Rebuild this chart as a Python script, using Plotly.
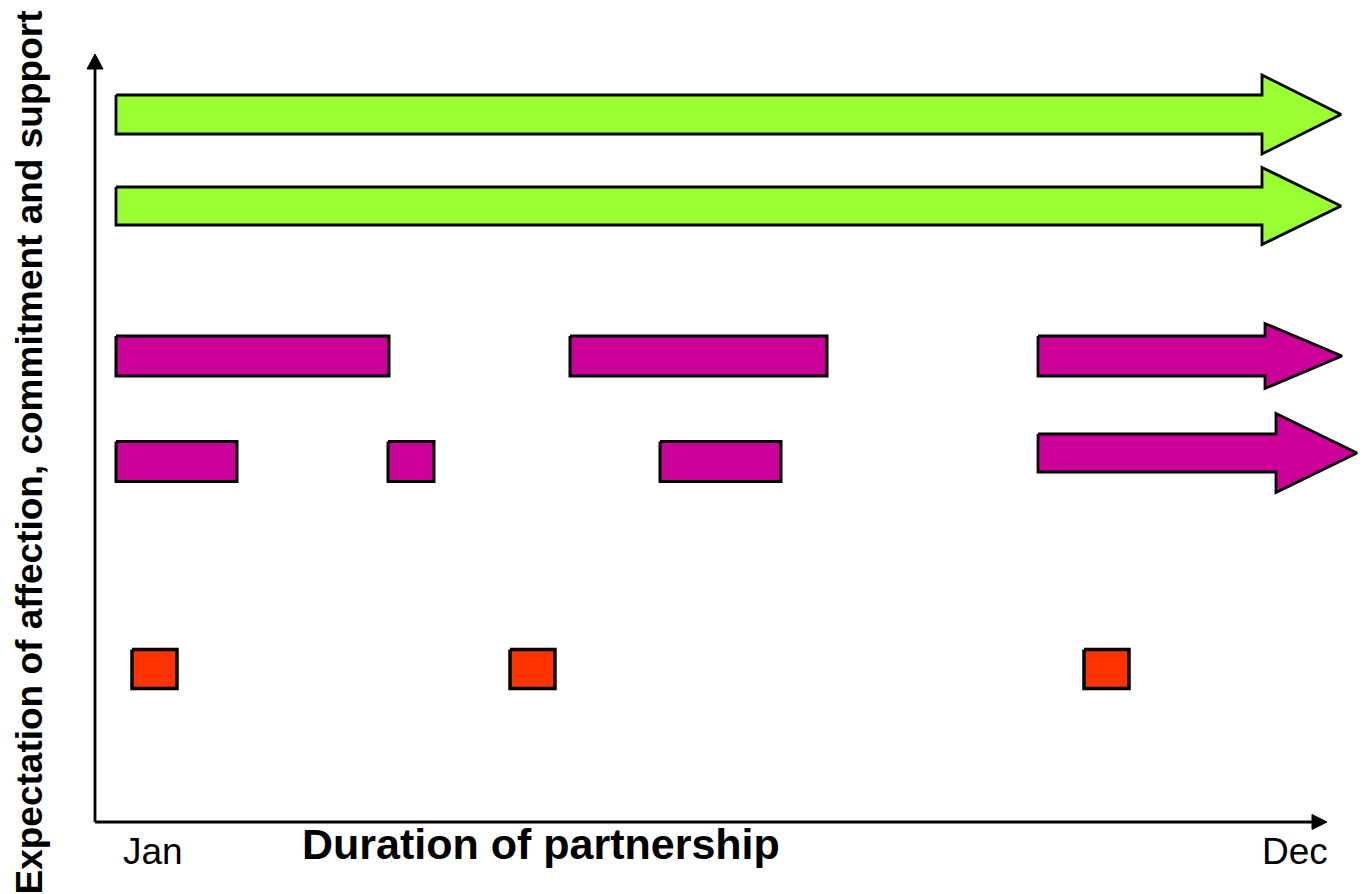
import plotly.graph_objects as go

# ---- Data (timeline units: x = position along duration, y = level of expectation) ----
arrow_y = [70.75, 61.6, 46.6, 36.9]
arrow_start = [2.1, 2.1, 94.3, 94.3]
arrow_head = [116.7, 116.7, 117.0, 118.1]
arrow_tip = [124.6, 124.6, 124.7, 126.2]
arrow_body_half = [1.95, 1.9, 2.0, 1.9]
arrow_head_half = [3.95, 3.85, 3.25, 3.95]
arrow_color = ["#99FF33", "#99FF33", "#CC0099", "#CC0099"]

bar_y = [46.6, 46.6, 36.05, 36.05, 36.05]
bar_start = [2.1, 47.5, 2.1, 29.3, 56.5]
bar_end = [29.4, 73.2, 14.2, 33.9, 68.6]
bar_half = [2.0, 2.0, 2.0, 2.0, 2.0]
bar_color = "#CC0099"

event_x = [5.95, 43.75, 101.15]
event_y = [15.3, 15.3, 15.3]
event_half_w = 2.25
event_half_h = 1.95
event_color = "#FF3300"

x_tick_labels = ["Jan", "Dec"]
x_tick_pos = [5.75, 120.0]
x_title = "Duration of partnership"
y_title = "Expectation of affection, commitment and support"

X_RANGE = [-9.5, 126.8]
Y_RANGE = [-7.2, 82.2]
X_AXIS_END = 123.2
Y_AXIS_END = 76.8

FONT = "Arial, 'Liberation Sans', sans-serif"

fig = go.Figure()

def poly(xs, ys, color, lw=3):
    fig.add_trace(go.Scatter(
        x=xs + [xs[0]], y=ys + [ys[0]], mode="lines", fill="toself",
        fillcolor=color, line=dict(color="black", width=lw),
        hoverinfo="skip", showlegend=False))

# arrows
for y, x0, xh, xt, bh, hh, c in zip(arrow_y, arrow_start, arrow_head, arrow_tip,
                                      arrow_body_half, arrow_head_half, arrow_color):
    xs = [x0, xh, xh, xt, xh, xh, x0]
    ys = [y + bh, y + bh, y + hh, y, y - hh, y - bh, y - bh]
    poly(xs, ys, c, lw=2.8)

# bars
for y, x0, x1, h in zip(bar_y, bar_start, bar_end, bar_half):
    poly([x0, x1, x1, x0], [y + h, y + h, y - h, y - h], bar_color)

# events
for x, y in zip(event_x, event_y):
    poly([x - event_half_w, x + event_half_w, x + event_half_w, x - event_half_w],
         [y + event_half_h, y + event_half_h, y - event_half_h, y - event_half_h],
         event_color, lw=3.5)

# axes lines with arrowheads
fig.add_trace(go.Scatter(x=[0, 0], y=[0, Y_AXIS_END - 1.4], mode="lines",
                         line=dict(color="black", width=2.8), hoverinfo="skip", showlegend=False))
fig.add_trace(go.Scatter(x=[0, X_AXIS_END - 1.4], y=[0, 0], mode="lines",
                         line=dict(color="black", width=2.8), hoverinfo="skip", showlegend=False))
fig.add_trace(go.Scatter(x=[-0.8, 0.8, 0, -0.8], y=[Y_AXIS_END - 1.5, Y_AXIS_END - 1.5, Y_AXIS_END, Y_AXIS_END - 1.5],
                         mode="lines", fill="toself", fillcolor="black", line=dict(color="black", width=1),
                         hoverinfo="skip", showlegend=False))
fig.add_trace(go.Scatter(x=[X_AXIS_END - 1.5, X_AXIS_END - 1.5, X_AXIS_END, X_AXIS_END - 1.5],
                         y=[0.75, -0.75, 0, 0.75],
                         mode="lines", fill="toself", fillcolor="black", line=dict(color="black", width=1),
                         hoverinfo="skip", showlegend=False))

annotations = []
for lab, xp in zip(x_tick_labels, x_tick_pos):
    annotations.append(dict(x=xp, y=-2.9, text=lab, showarrow=False, xanchor="center", yanchor="middle",
                            font=dict(family=FONT, size=37, color="black")))
annotations.append(dict(x=44.6, y=-2.15, text=f"<b>{x_title}</b>", showarrow=False,
                        xanchor="center", yanchor="middle",
                        font=dict(family=FONT, size=43, color="black")))
annotations.append(dict(x=-6.6, y=36.95, text=f"<b>{y_title}</b>", showarrow=False, textangle=-90,
                        xanchor="center", yanchor="middle",
                        font=dict(family=FONT, size=37, color="black")))

fig.update_layout(
    width=1363, height=894, margin=dict(l=0, r=0, t=0, b=0),
    paper_bgcolor="white", plot_bgcolor="white",
    xaxis=dict(range=X_RANGE, visible=False, fixedrange=True),
    yaxis=dict(range=Y_RANGE, visible=False, fixedrange=True),
    annotations=annotations, showlegend=False,
)

fig.write_html("out.html", config={"displayModeBar": False})
